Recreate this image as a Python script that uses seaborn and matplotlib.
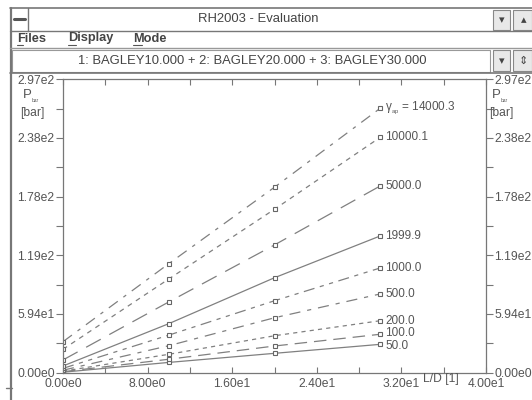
import matplotlib
matplotlib.use("Agg")
import matplotlib.pyplot as plt
import seaborn as sns
import pandas as pd
from matplotlib.patches import Rectangle
from matplotlib.lines import Line2D

# ---------------- data ----------------
ld_values = [0, 10, 20, 30]
rate_labels = ["50.0", "100.0", "200.0", "500.0", "1000.0", "1999.9",
               "5000.0", "10000.1", "14000.3"]
p_50 = [0.5, 10.4, 19.6, 28.7]
p_100 = [1.0, 13.6, 27.0, 38.9]
p_200 = [1.5, 18.6, 37.4, 52.6]
p_500 = [2.5, 27.3, 55.6, 79.7]
p_1000 = [4.4, 38.0, 72.8, 106.0]
p_2000 = [6.8, 49.6, 96.1, 138.4]
p_5000 = [12.9, 71.6, 129.3, 189.0]
p_10000 = [23.7, 94.8, 165.4, 238.2]
p_14000 = [31.4, 110.3, 187.7, 267.6]
series_values = [p_50, p_100, p_200, p_500, p_1000, p_2000, p_5000, p_10000, p_14000]

x_ticks = [0, 8, 16, 24, 32, 40]
x_tick_labels = ["0.00e0", "8.00e0", "1.60e1", "2.40e1", "3.20e1", "4.00e1"]
y_ticks = [0, 59.4, 118.8, 178.2, 237.6, 297]
y_tick_labels = ["0.00e0", "5.94e1", "1.19e2", "1.78e2", "2.38e2", "2.97e2"]

title_text = "RH2003 - Evaluation"
combo_text = "1: BAGLEY10.000 + 2: BAGLEY20.000 + 3: BAGLEY30.000"
x_label = "L/D [1]"

rows = []
for lab, vals in zip(rate_labels, series_values):
    for x, y in zip(ld_values, vals):
        rows.append({"LD": x, "P": y, "rate": lab})
df = pd.DataFrame(rows)

# ---------------- style ----------------
sns.set_theme(style="white")
plt.rcParams["font.family"] = ["Liberation Sans", "DejaVu Sans"]
plt.rcParams["mathtext.fontset"] = "custom"
plt.rcParams["mathtext.rm"] = "Liberation Sans"
plt.rcParams["mathtext.it"] = "Liberation Sans"
plt.rcParams["lines.scale_dashes"] = False

TXT = "#555555"
LINE = "#808080"

dash_styles = [
    "-",                       # 50
    (0, (9, 5)),               # 100
    (0, (3, 3)),               # 200
    (0, (8, 5, 3, 5)),         # 500
    (0, (8, 4, 3, 4, 3, 4)),   # 1000
    "-",                       # 1999.9
    (0, (12, 7)),              # 5000
    (0, (3.5, 3.5)),           # 10000
    (0, (8, 5, 2.5, 5)),       # 14000
]
label_nudge = [-1.0, 0.8, 0, 0, 0, 0, 0, 0, 0]

W, H = 532, 400
fig = plt.figure(figsize=(W / 100, H / 100), dpi=100, facecolor="white")

# chrome overlay (pixel coordinates)
bg = fig.add_axes([0, 0, 1, 1], zorder=0)
bg.set_xlim(0, W)
bg.set_ylim(H, 0)
bg.axis("off")

def hline(y, x0, x1, c="#8a8a8a", lw=1.0):
    bg.add_line(Line2D([x0, x1], [y, y], color=c, lw=lw))

def vline(x, y0, y1, c="#8a8a8a", lw=1.0):
    bg.add_line(Line2D([x, x], [y0, y1], color=c, lw=lw))

# window frame
hline(8, 10, W, c="#777777", lw=1.2)
vline(11, 8, H, c="#777777", lw=1.6)
hline(31, 10, W, c="#777777")
hline(48, 10, W, c="#999999")
hline(73, 10, W, c="#777777", lw=1.2)
# system box
vline(28, 8, 31, c="#777777")
bg.add_line(Line2D([14, 25], [19, 19], color="#555555", lw=2.2))
# title bar buttons
bg.add_patch(Rectangle((493, 10), 17, 20, fc="#e8e8e8", ec="#888888", lw=0.8))
bg.add_patch(Rectangle((513, 10), 19, 20, fc="#e8e8e8", ec="#888888", lw=0.8))
bg.text(501.5, 20, "▾", ha="center", va="center", fontsize=8, color="#444444",
        family="DejaVu Sans")
bg.text(524, 20, "▴", ha="center", va="center", fontsize=8, color="#444444",
        family="DejaVu Sans")
bg.text(258, 19, title_text, ha="center", va="center", fontsize=9.4, color="#444444")

# menu
menu_items = [("Files", 17), ("Display", 68), ("Mode", 133)]
for name, x0 in menu_items:
    bg.text(x0, 38.5, name, ha="left", va="center", fontsize=9.2, color="#444444",
            fontweight="bold")
# underline first letters
for x0, w in [(17, 6), (68, 8), (133, 9)]:
    hline(45, x0, x0 + w, c="#555555", lw=0.8)

# combo box
bg.add_patch(Rectangle((12, 50), 478, 22, fc="white", ec="#999999", lw=0.8))
bg.add_patch(Rectangle((493, 50), 17, 21, fc="#e8e8e8", ec="#888888", lw=0.8))
bg.add_patch(Rectangle((513, 50), 19, 21, fc="#e8e8e8", ec="#888888", lw=0.8))
bg.text(501.5, 61, "▾", ha="center", va="center", fontsize=8, color="#444444",
        family="DejaVu Sans")
bg.text(523, 61, "⇕", ha="center", va="center", fontsize=8, color="#444444",
        family="DejaVu Sans")
bg.text(252, 61, combo_text, ha="center", va="center", fontsize=9.4, color="#444444")
hline(388, 6, 12, c="#777777")

# ---------------- plot ----------------
left, right, top, bottom = 63, 486, 79.2, 372.7
ax = fig.add_axes([left / W, 1 - bottom / H, (right - left) / W, (bottom - top) / H],
                  zorder=2)
ax.patch.set_alpha(0)

for lab, ls in zip(rate_labels, dash_styles):
    sub = df[df["rate"] == lab]
    sns.lineplot(data=sub, x="LD", y="P", ax=ax, color=LINE, linewidth=0.9,
                 linestyle=ls, marker="s", markersize=3.4, markerfacecolor="white",
                 markeredgecolor="#666666", markeredgewidth=0.8, legend=False,
                 errorbar=None, sort=False)

for lab, vals, dy in zip(rate_labels, series_values, label_nudge):
    txt = lab
    if lab == rate_labels[-1]:
        txt = r"$\mathregular{\gamma_{_{ap}}}$ = " + lab
    ax.annotate(txt, xy=(ld_values[-1], vals[-1]), xytext=(3.5, dy),
                textcoords="offset points", ha="left", va="center",
                fontsize=8.5, color=TXT)

ax.set_xlim(0, 40)
ax.set_ylim(0, 297)
ax.set_xlabel("")
ax.set_ylabel("")
ax.set_xticks(x_ticks)
ax.set_xticklabels(x_tick_labels)
ax.set_xticks([4, 12, 20, 28, 36], minor=True)
ax.set_yticks(y_ticks)
ax.set_yticklabels(y_tick_labels)
ax.set_yticks([29.7, 89.1, 148.5, 207.9, 267.3], minor=True)

for s in ax.spines.values():
    s.set_color("#777777")
    s.set_linewidth(0.9)
    s.set_visible(True)

ax.tick_params(axis="x", which="both", direction="in", top=True, bottom=True,
               length=4, width=0.8, color="#777777", labelsize=8.7,
               labelcolor=TXT, pad=4)
ax.tick_params(axis="y", which="both", direction="out", left=True, right=True,
               labelleft=True, labelright=True, length=5, width=0.8,
               color="#777777", labelsize=8.7, labelcolor=TXT, pad=1)

# axis labels (unit labels under top tick labels)
for xpix, ha in [(20, "left"), (489, "left")]:
    fig.text((xpix + 3) / W, 1 - 95 / H, "P", ha=ha, va="center", fontsize=9.5,
             color=TXT)
    fig.text((xpix + 12) / W, 1 - 101 / H, "bar", ha=ha, va="center", fontsize=3.5,
             color=TXT)
    fig.text(xpix / W, 1 - 113 / H, "[bar]", ha=ha, va="center", fontsize=8.7,
             color=TXT)
fig.text(423 / W, 1 - 379 / H, x_label, ha="left", va="center", fontsize=8.7,
         color=TXT)

fig.savefig("out.png", dpi=100, facecolor="white")
